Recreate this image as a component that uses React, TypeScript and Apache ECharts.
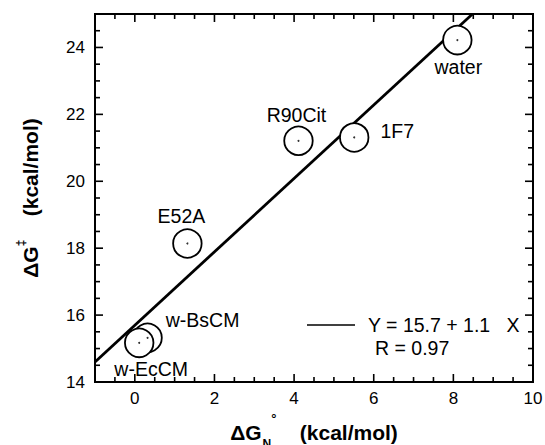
import React, { useEffect, useRef } from "react";
import * as echarts from "echarts";

// ---- data ----
const pointNames = ["w-BsCM", "w-EcCM", "E52A", "R90Cit", "1F7", "water"];
const dGN = [0.32, 0.11, 1.32, 4.11, 5.51, 8.1];
const dGact = [15.32, 15.17, 18.14, 21.21, 21.31, 24.22];
const fitX = [-1, 8.48];
const fitY = [14.6, 25];
const xMajorTicks = [0, 2, 4, 6, 8, 10];
const yMajorTicks = [14, 16, 18, 20, 22, 24];
const xAllTicks = [-0.5, 0, 0.5, 1, 1.5, 2, 2.5, 3, 3.5, 4, 4.5, 5, 5.5, 6, 6.5, 7, 7.5, 8, 8.5, 9, 9.5];
const yAllTicks = [14.5, 15, 15.5, 16, 16.5, 17, 17.5, 18, 18.5, 19, 19.5, 20, 20.5, 21, 21.5, 22, 22.5, 23, 23.5, 24, 24.5];
const X_MIN = -1;
const X_MAX = 10;
const Y_MIN = 14;
const Y_MAX = 25;
const fitText = "Y = 15.7 + 1.1   X";
const rText = "R = 0.97";

// ---- styling (label offsets from circle centre, px) ----
const labelOffsets = [
  [55, -18],
  [12, 26],
  [-6, -27],
  [-2, -26],
  [43, -6],
  [1, 27],
];

const FONT = "'Liberation Sans', Arial, Helvetica, sans-serif";
const MAJOR_LEN = 8;
const MINOR_LEN = 5;

export default function App() {
  const ref = useRef<HTMLDivElement>(null);
  useEffect(() => {
    if (!ref.current) return;
    const chart = echarts.init(ref.current, undefined, { renderer: "svg" });

    const tickLine = (x1: number, y1: number, x2: number, y2: number) => ({
      type: "line",
      shape: { x1, y1, x2, y2 },
      style: { stroke: "#000", lineWidth: 1.6 },
    });

    const option: any = {
      animation: false,
      grid: {
        left: 95,
        right: 12,
        top: 14,
        bottom: 63,
        containLabel: false,
        outerBoundsMode: "none",
        show: true,
        borderColor: "#000",
        borderWidth: 2,
        backgroundColor: "transparent",
      },
      xAxis: {
        type: "value",
        min: X_MIN,
        max: X_MAX,
        axisLine: { show: true, onZero: false, lineStyle: { color: "#000", width: 2 } },
        axisTick: { show: false },
        axisLabel: {
          show: true,
          customValues: xMajorTicks,
          color: "#000",
          fontSize: 17,
          fontFamily: FONT,
          margin: 8,
        },
        splitLine: { show: false },
        name: "{b|ΔG}{sub|N}{sup|°}{b|    (kcal/mol)}",
        nameLocation: "middle",
        nameGap: 11,
        nameTextStyle: {
          rich: {
            b: { fontSize: 21, fontWeight: "bold", lineHeight: 42, fontFamily: FONT, color: "#000" },
            sub: {
              fontSize: 12,
              fontWeight: "bold",
              lineHeight: 12,
              verticalAlign: "bottom",
              padding: [0, 0, 4, 1],
              fontFamily: FONT,
              color: "#000",
            },
            sup: {
              fontSize: 13,
              fontWeight: "bold",
              lineHeight: 13,
              verticalAlign: "top",
              fontFamily: FONT,
              color: "#000",
            },
          },
        },
      },
      yAxis: {
        type: "value",
        min: Y_MIN,
        max: Y_MAX,
        axisLine: { show: true, onZero: false, lineStyle: { color: "#000", width: 2 } },
        axisTick: { show: false },
        axisLabel: {
          show: true,
          customValues: yMajorTicks,
          color: "#000",
          fontSize: 17,
          fontFamily: FONT,
          margin: 10,
        },
        splitLine: { show: false },
        name: "{b|ΔG}{sup|‡}{b|    (kcal/mol)}",
        nameLocation: "middle",
        nameRotate: 90,
        nameGap: 50,
        nameTextStyle: {
          rich: {
            b: { fontSize: 21, fontWeight: "bold", lineHeight: 30, fontFamily: FONT, color: "#000" },
            sup: {
              fontSize: 12,
              fontWeight: "bold",
              lineHeight: 12,
              verticalAlign: "top",
              fontFamily: FONT,
              color: "#000",
            },
          },
        },
      },
      series: [
        // tick marks on all four sides, placed through the axes' scales
        {
          type: "custom",
          silent: true,
          clip: false,
          z: 5,
          data: xAllTicks.map((v) => [v, Y_MIN]),
          encode: { x: 0, y: 1 },
          renderItem: (params: any, api: any) => {
            const v = api.value(0);
            const len = xMajorTicks.includes(v) ? MAJOR_LEN : MINOR_LEN;
            const b = api.coord([v, Y_MIN]);
            const t = api.coord([v, Y_MAX]);
            return {
              type: "group",
              children: [tickLine(b[0], b[1], b[0], b[1] - len), tickLine(t[0], t[1], t[0], t[1] + len)],
            };
          },
        },
        {
          type: "custom",
          silent: true,
          clip: false,
          z: 5,
          data: yAllTicks.map((v) => [X_MIN, v]),
          encode: { x: 0, y: 1 },
          renderItem: (params: any, api: any) => {
            const v = api.value(1);
            const len = yMajorTicks.includes(v) ? MAJOR_LEN : MINOR_LEN;
            const l = api.coord([X_MIN, v]);
            const r = api.coord([X_MAX, v]);
            return {
              type: "group",
              children: [tickLine(l[0], l[1], l[0] + len, l[1]), tickLine(r[0], r[1], r[0] - len, r[1])],
            };
          },
        },
        {
          type: "line",
          data: fitX.map((x, i) => [x, fitY[i]]),
          symbol: "none",
          clip: true,
          lineStyle: { color: "#000", width: 2.8 },
          z: 1,
          silent: true,
        },
        {
          type: "scatter",
          symbol: "circle",
          symbolSize: 28.5,
          itemStyle: { color: "#fff", borderColor: "#000", borderWidth: 1.8, opacity: 1 },
          label: {
            show: true,
            position: "inside",
            formatter: "{b}",
            color: "#000",
            fontSize: 19.5,
            fontFamily: FONT,
          },
          data: pointNames.map((n, i) => ({
            name: n,
            value: [dGN[i], dGact[i]],
            label: { offset: labelOffsets[i] },
          })),
          z: 2,
        },
        {
          type: "scatter",
          symbol: "circle",
          symbolSize: 2,
          itemStyle: { color: "#000" },
          data: pointNames.map((n, i) => [dGN[i], dGact[i]]),
          z: 3,
          silent: true,
        },
      ],
      graphic: [
        {
          type: "line",
          shape: { x1: 307, y1: 325, x2: 355, y2: 325 },
          style: { stroke: "#000", lineWidth: 1.5 },
        },
        {
          type: "text",
          x: 368,
          y: 325,
          style: {
            text: fitText,
            font: `19.5px ${FONT}`,
            fill: "#000",
            verticalAlign: "middle",
          },
        },
        {
          type: "text",
          x: 375,
          y: 348,
          style: {
            text: rText,
            font: `19.5px ${FONT}`,
            fill: "#000",
            verticalAlign: "middle",
          },
        },
      ],
    };
    chart.setOption(option);
    return () => chart.dispose();
  }, []);
  return <div ref={ref} style={{ width: 545, height: 445, position: "absolute", left: 0, top: 0, background: "#fff" }} />;
}
